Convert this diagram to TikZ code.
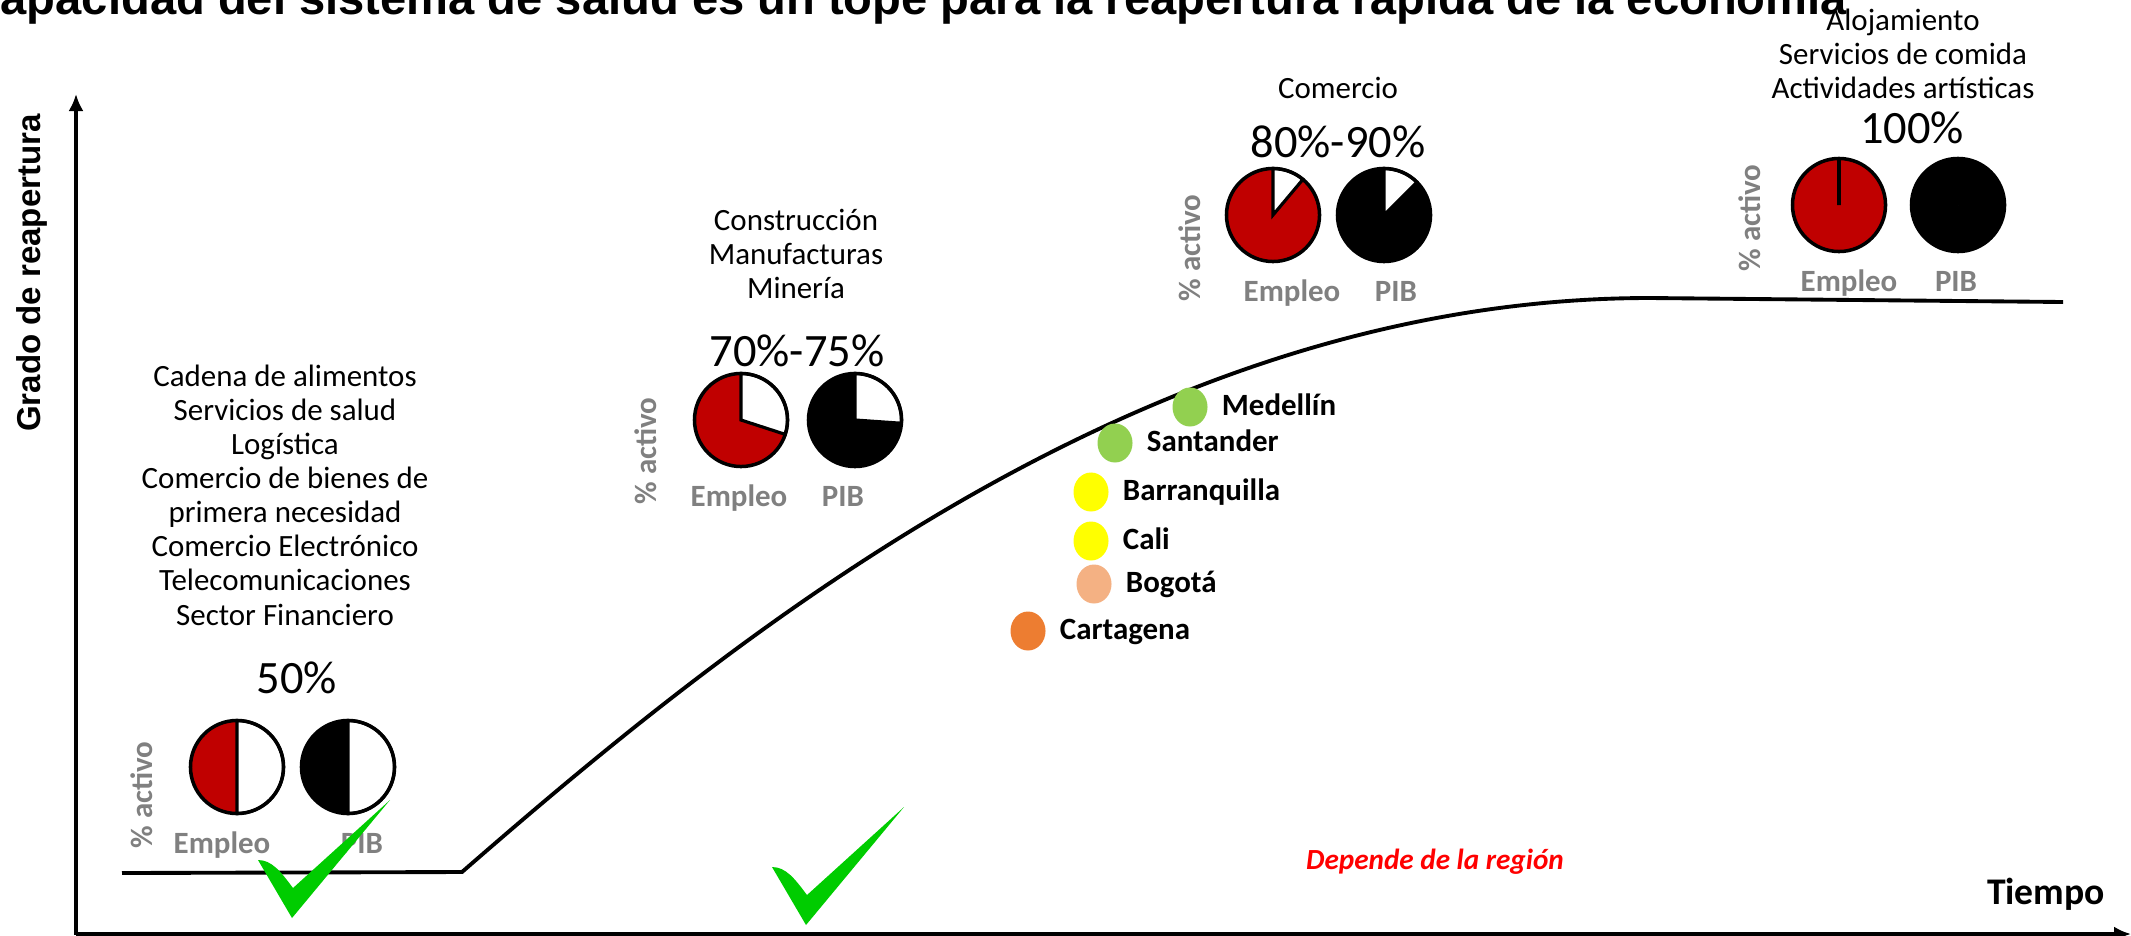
\documentclass[tikz,border=0pt]{standalone}
\usepackage{fontspec}
\setmainfont{Carlito}
\newfontfamily\arialfont{Liberation Sans}
\usepackage{tikz}
\usetikzlibrary{arrows.meta,shapes,positioning}

\definecolor{empred}{RGB}{192,0,0}
\definecolor{tagGray}{RGB}{128,128,128}
\definecolor{checkgreen}{RGB}{0,204,0}
\definecolor{regionred}{RGB}{255,0,0}
\definecolor{citygreen}{RGB}{146,208,80}
\definecolor{cityyellow}{RGB}{255,255,0}
\definecolor{citypeach}{RGB}{244,177,131}
\definecolor{cityorange}{RGB}{237,125,49}

\tikzset{
  basic/.style   = {inner sep=0pt, align=center},
  sector/.style  = {basic, font=\fontsize{8.8}{9.7}\selectfont},
  percent/.style = {basic, font=\fontsize{13.2}{15}\selectfont},
  tag/.style     = {basic, font=\bfseries\fontsize{8.8}{10}\selectfont, text=tagGray,
                    text height=0.22cm, text depth=0.06cm},
  city/.style    = {basic, font=\bfseries\fontsize{8.8}{10}\selectfont,
                    text height=0.22cm, text depth=0.06cm},
  dot/.style     = {ellipse, inner sep=0pt, minimum width=0.35cm, minimum height=0.39cm},
  pie/.style     = {circle, draw, line width=1pt, inner sep=0pt, minimum size=0.93cm}
}

\begin{document}
\begin{tikzpicture}[x=0.01cm, y=0.01cm, >={Latex[length=0.17cm, width=0.15cm]}]

\path[use as bounding box, clip] (0,0) rectangle (2131,935);

% title, cut by the top edge
\node[basic, anchor=base west, font=\arialfont\bfseries\fontsize{13.4}{15}\selectfont] (title) at (-34,921)
  {Capacidad del sistema de salud es un tope para la reapertura rápida de la economía};

% axes
\coordinate (yb) at (76,0);
\coordinate (yt) at (76,841);
\coordinate (xb) at (76,1);
\coordinate (xe) at (2131,1);
\draw[->, line width=0.9pt] (yb) -- (yt);
\draw[->, line width=0.9pt] (xb) -- (xe);
\node[basic, rotate=90, font=\arialfont\bfseries\fontsize{9.4}{11}\selectfont] (ylab) at (32,662) {Grado de reapertura};
\node[basic, font=\bfseries\fontsize{10.7}{12}\selectfont] (xlab) at (2046,41) {Tiempo};

% reopening curve
\coordinate (k0) at (122,62);
\coordinate (k1) at (462,63);
\coordinate (k2) at (1650,637);
\coordinate (k3) at (2063,633);
\draw[line width=1.1pt] (k0) -- (k1) .. controls (740,305) and (1150,637) .. (k2) -- (k3);

% sectors and their share
\node[sector] (s1) at (285,440) {Cadena de alimentos\\Servicios de salud\\Logística\\Comercio de bienes de\\primera necesidad\\Comercio Electrónico\\Telecomunicaciones\\Sector Financiero};
\node[sector] (s2) at (796,681) {Construcción\\Manufacturas\\Minería};
\node[sector] (s3) at (1338,847) {Comercio};
\node[sector] (s4) at (1903,881) {Alojamiento\\Servicios de comida\\Actividades artísticas};

\node[percent] (pc1) at (297,257) {50\%};
\node[percent] (pc2) at (797,584) {70\%-75\%};
\node[percent] (pc3) at (1338,793) {80\%-90\%};
\node[percent] (pc4) at (1912,807) {100\%};

% pies: white share from 12 o'clock clockwise to \ang
\foreach \nm/\px/\py/\col/\ang in {e1/237/168/empred/-90, p1/348/168/black/-90,
    e2/741/515/empred/-18, p2/855/515/black/-4,
    e3/1273/720/empred/50, p3/1384/720/black/45,
    e4/1839/730/empred/90, p4/1958/730/black/90}
{
  \fill[\col] (\px,\py) circle (46.5);
  \filldraw[fill=white, line width=0.9pt] (\px,\py) -- ++(90:46.5) arc[start angle=90, end angle=\ang, radius=46.5] -- cycle;
  \node[pie] (\nm) at (\px,\py) {};
}

\foreach \g/\ex/\pb in {1/-15/14, 2/-2/-12, 3/19/12, 4/10/-2}
{
  \node[tag, below=0.15cm of e\g, xshift=\ex*0.01cm] (le\g) {Empleo};
  \node[tag, below=0.15cm of p\g, xshift=\pb*0.01cm] (lp\g) {PIB};
}
\foreach \g/\ax/\ay in {1/144/140, 2/648/484, 3/1192/687, 4/1752/717}
  \node[tag, rotate=90] (act\g) at (\ax,\ay) {\% activo};

% regions
\node[dot, fill=citygreen] (d1) at (1190,528) {};
\node[dot, fill=citygreen] (d2) at (1115,492) {};
\node[dot, fill=cityyellow] (d3) at (1091,443) {};
\node[dot, fill=cityyellow] (d4) at (1091,394) {};
\node[dot, fill=citypeach] (d5) at (1094,351) {};
\node[dot, fill=cityorange] (d6) at (1028,304) {};
\foreach \i/\name in {1/Medellín, 2/Santander, 3/Barranquilla, 4/Cali, 5/Bogotá, 6/Cartagena}
  \node[city, right=0.13cm of d\i] (n\i) {\name};

\node[basic, font=\bfseries\itshape\fontsize{8.3}{10}\selectfont, text=regionred] (region) at (1435,73) {Depende de la región};

% check marks
\foreach \cx/\cy in {292/17, 806/10}
  \fill[checkgreen] (\cx,\cy) -- ++(-34,58) .. controls +(14,0) and +(-12,16) .. (\cx+1,\cy+30) -- (\cx+98,\cy+118) -- cycle;
\end{tikzpicture}
\end{document}
